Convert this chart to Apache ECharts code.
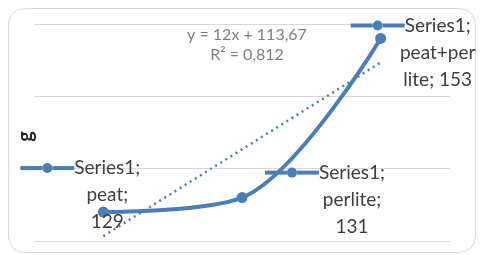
<!DOCTYPE html>
<html>
<head>
<meta charset="utf-8">
<script src="https://cdn.jsdelivr.net/npm/echarts@6/dist/echarts.min.js"></script>
<style>
  html, body { margin: 0; padding: 0; background: #fff; }
  #chart { width: 480px; height: 255px; }
</style>
</head>
<body>
<div id="chart"></div>
<script>
// data
const categories = ['peat', 'perlite', 'peat+perlite'];
const values = [129, 131, 153];
const trendValues = [125.67, 137.67, 149.67]; // y = 12x + 113,67
const labelLines = [
    ['Series1;', 'peat;', '129'],
    ['Series1;', 'perlite;', '131'],
    ['Series1;', 'peat+per', 'lite; 153']
];
const labelOffsets = [[-23, -17], [83, 2], [30, 14]];
const equationLines = ['y = 12x + 113,67', 'R² = 0,812'];

const blue = '#4a7ebb';
const font = 'Lato';

// key (line + marker) in front of the first line, blank spacer on the others
function buildLabel(i) {
    return labelLines[i].map((t, k) => (k === 0 ? '{a|}{dot|}{a|}' : '{sp|}') + '{t|' + t + '}').join('\n');
}

const chart = echarts.init(document.getElementById('chart'));
chart.setOption({
    animation: false,
    grid: { left: 34, right: 30, top: 24, bottom: 14 },
    xAxis: {
        type: 'category',
        data: categories,
        axisLine: { show: false },
        axisTick: { show: false },
        axisLabel: { show: false }
    },
    yAxis: {
        type: 'value',
        min: 125,
        max: 155,
        interval: 10,
        name: 'g',
        nameLocation: 'middle',
        nameGap: -2,
        nameTextStyle: { fontFamily: font, fontSize: 20, fontWeight: 'bold', color: '#262626', padding: [0, 8, 0, 0] },
        axisLabel: { show: false },
        axisLine: { show: false },
        axisTick: { show: false },
        splitLine: { lineStyle: { color: '#d9d9d9', width: 1 } }
    },
    graphic: [
        {
            type: 'rect',
            shape: { x: 8.5, y: 8.5, width: 467, height: 244, r: 16 },
            style: { fill: 'none', stroke: '#d9d9d9', lineWidth: 1 },
            silent: true
        },
        {
            type: 'text',
            x: 247, y: 25,
            style: {
                text: equationLines.join('\n'),
                fill: '#7f7f7f', font: '16px ' + font,
                align: 'center', lineHeight: 20
            }
        }
    ],
    series: [
        {
            name: 'Trend',
            type: 'line',
            data: trendValues,
            symbol: 'none',
            lineStyle: { color: blue, width: 2.5, type: [2, 4] },
            z: 1
        },
        {
            name: 'Series1',
            type: 'line',
            smooth: 0.33,
            data: values.map((v, i) => ({ value: v, label: { offset: labelOffsets[i] } })),
            symbol: 'circle',
            symbolSize: 11,
            itemStyle: { color: blue },
            lineStyle: { color: blue, width: 4 },
            z: 2,
            label: {
                show: true,
                position: 'inside',
                align: 'center',
                formatter: p => buildLabel(p.dataIndex),
                rich: {
                    a: { width: 22, height: 4, backgroundColor: blue, verticalAlign: 'middle' },
                    dot: { width: 10, height: 10, borderRadius: 5, backgroundColor: blue, verticalAlign: 'middle' },
                    sp: { width: 54, height: 4, verticalAlign: 'middle' },
                    t: { fontFamily: font, fontSize: 19, lineHeight: 27, color: '#404040', verticalAlign: 'middle' }
                }
            }
        }
    ]
});
</script>
</body>
</html>
